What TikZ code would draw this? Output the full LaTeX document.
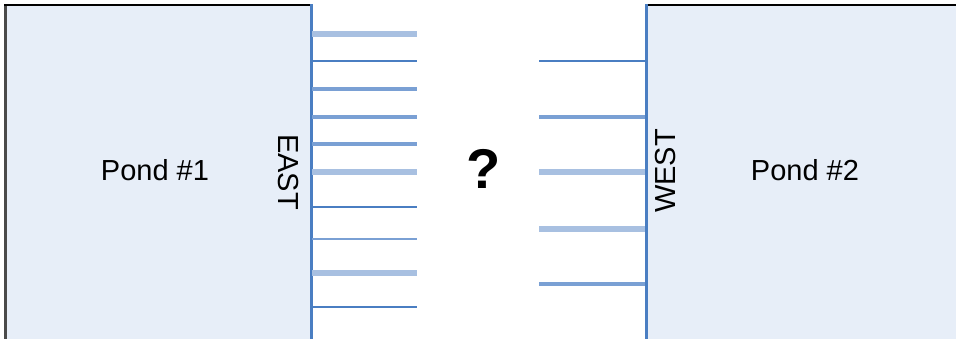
\documentclass[tikz,border=0pt]{standalone}
\usepackage{fontspec}
\setmainfont{Liberation Sans}
\definecolor{pondfill}{HTML}{E7EEF8}
\definecolor{pipedark}{HTML}{4A7EC2}
\definecolor{pipemid}{HTML}{7AA0D4}
\definecolor{pipelight}{HTML}{A8C0E1}
\definecolor{edgegray}{HTML}{4A4A4A}
\tikzset{
  pondlabel/.style={font=\fontsize{29}{30}\selectfont, inner sep=0pt},
  sidelabel/.style={font=\fontsize{29}{30}\selectfont, inner sep=0pt},
  pdark/.style={draw=pipedark, line width=2.4pt},
  pmid/.style={draw=pipemid, line width=3.4pt},
  plight/.style={draw=pipelight, line width=5.5pt},
}
\begin{document}
\begin{tikzpicture}[x=1pt,y=-1pt]
\useasboundingbox (0,0) rectangle (956,338);
\clip (0,0) rectangle (956,338);
% pond 1
\fill[pondfill] (4,5) rectangle (311,345);
\draw[edgegray, line width=3pt] (5.5,5) -- (5.5,345);
\draw[black, line width=2.5pt] (4,5) -- (311,5);
\draw[pipedark, line width=3pt] (311,4) -- (311,345);
% pond 2
\fill[pondfill] (646,5) rectangle (960,345);
\draw[black, line width=2.5pt] (646,5) -- (960,5);
\draw[pipedark, line width=3pt] (646.5,4) -- (646.5,345);
% labels
\node[pondlabel] (p1) at (155,170) {Pond \#1};
\node[pondlabel] (p2) at (805,170) {Pond \#2};
\node[sidelabel, rotate=-90] (east) at (288,172) {EAST};
\node[sidelabel, rotate=90] (west) at (666,171) {WEST};
\node[font=\fontsize{56}{58}\selectfont\bfseries, inner sep=0pt] (q) at (484,169) {?};
% east pipes
\draw[plight] (312,34) -- (417,34);
\draw[pdark] (312,61) -- (417,61);
\draw[pmid] (312,89) -- (417,89);
\draw[pmid] (312,117) -- (417,117);
\draw[pmid] (312,144) -- (417,144);
\draw[plight] (312,172) -- (417,172);
\draw[pdark] (312,207) -- (417,207);
\draw[pmid, line width=2.6pt] (312,239) -- (417,239);
\draw[plight] (312,273) -- (417,273);
\draw[pdark] (312,307) -- (417,307);
% west pipes
\draw[pdark] (539,61) -- (645,61);
\draw[pmid] (539,117) -- (645,117);
\draw[plight] (539,172) -- (645,172);
\draw[plight, line width=6pt] (539,229) -- (645,229);
\draw[pmid] (539,284) -- (645,284);
\end{tikzpicture}
\end{document}
